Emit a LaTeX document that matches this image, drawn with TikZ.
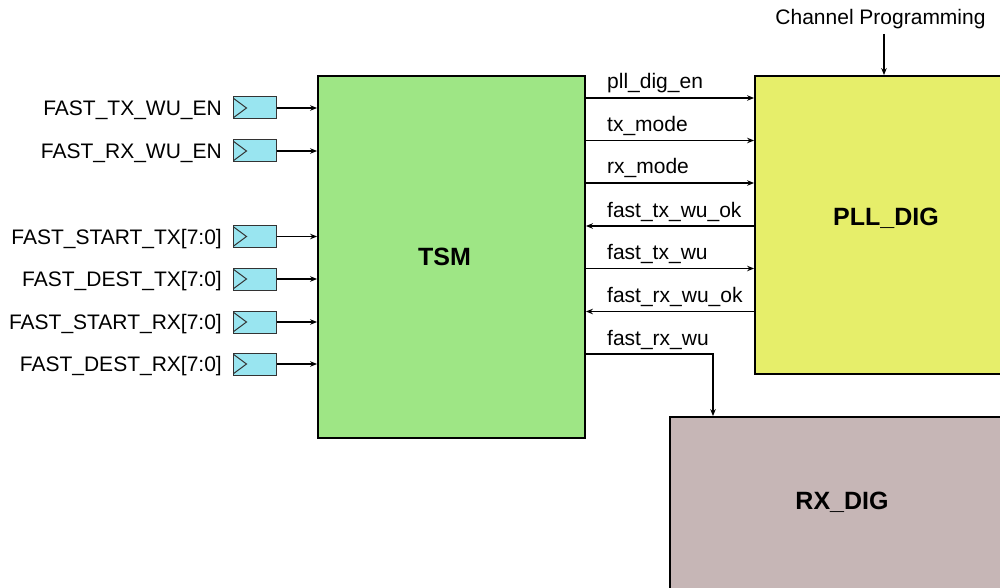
\documentclass[tikz,border=0pt]{standalone}
\usepackage{fontspec}
\setmainfont{Liberation Sans}
\usetikzlibrary{arrows.meta}
\definecolor{tsmgreen}{HTML}{9EE685}
\definecolor{pllyellow}{HTML}{E6EE6A}
\definecolor{rxgray}{HTML}{C6B6B6}
\definecolor{bufcyan}{HTML}{99E5F0}
\begin{document}
\begin{tikzpicture}[x=1pt,y=-1pt,
  lbl/.style={font=\fontsize{21}{23}\selectfont, inner sep=0pt},
  blk/.style={draw=black, line width=1.8pt, inner sep=0pt},
  blktext/.style={font=\fontsize{25}{28}\selectfont\bfseries, inner sep=0pt},
  buf/.style={draw=black!80, line width=1pt, fill=bufcyan, minimum width=43pt, minimum height=22pt, inner sep=0pt,
    path picture={\draw[line width=1pt] ([yshift=-1pt]path picture bounding box.north west) -- ([xshift=13.5pt]path picture bounding box.west) -- ([yshift=1pt]path picture bounding box.south west);}},
  sig/.style={line width=1.2pt, -{Stealth[length=7pt,width=5.5pt]}}
]
\useasboundingbox (0,0) rectangle (1000,588);
\begin{scope}
\clip (0,0) rectangle (1000,588);
% blocks
\node[blk, fill=tsmgreen, minimum width=267pt, minimum height=362pt] (tsm) at (451.5,257) {};
\node[blk, fill=pllyellow, minimum width=260pt, minimum height=298pt] (pll) at (885,225) {};
\node[blk, fill=rxgray, minimum width=340pt, minimum height=190pt] (rx) at (840,512) {};
\end{scope}
\node[blktext] (tsmlbl) at (444.5,257) {TSM};
\node[blktext] (plllbl) at (886,218) {PLL\_DIG};
\node[blktext] (rxlbl) at (842,502) {RX\_DIG};

% input buffers
\foreach \n/\y/\t in {1/108/FAST\_TX\_WU\_EN, 2/151/FAST\_RX\_WU\_EN, 3/236.5/FAST\_START\_TX[7:0], 4/279/FAST\_DEST\_TX[7:0], 5/322/FAST\_START\_RX[7:0], 6/364/FAST\_DEST\_RX[7:0]}{
  \node[buf] (b\n) at (254.5,\y) {};
  \node[lbl, anchor=base east] (l\n) at (222,\y+7.5) {\t};
  \draw[sig] (b\n.east) -- (tsm.west |- b\n.east);
}

% signals between TSM and PLL_DIG
\coordinate (c1) at (600,98);
\coordinate (c2) at (600,140.5);
\coordinate (c3) at (600,183);
\coordinate (c4) at (600,226);
\coordinate (c5) at (600,268.5);
\coordinate (c6) at (600,311.5);
\coordinate (c7) at (713,354);
\draw[sig] (tsm.east |- c1) -- (pll.west |- c1);
\draw[sig] (tsm.east |- c2) -- (pll.west |- c2);
\draw[sig] (tsm.east |- c3) -- (pll.west |- c3);
\draw[sig] (pll.west |- c4) -- (tsm.east |- c4);
\draw[sig] (tsm.east |- c5) -- (pll.west |- c5);
\draw[sig] (pll.west |- c6) -- (tsm.east |- c6);
\draw[sig] (tsm.east |- c7) -- (c7) -- (c7 |- rx.north);

\node[lbl, anchor=base west] (s1) at (607,89) {pll\_dig\_en};
\node[lbl, anchor=base west] (s2) at (607,131.5) {tx\_mode};
\node[lbl, anchor=base west] (s3) at (607,174) {rx\_mode};
\node[lbl, anchor=base west] (s4) at (607,217) {fast\_tx\_wu\_ok};
\node[lbl, anchor=base west] (s5) at (607,259.5) {fast\_tx\_wu};
\node[lbl, anchor=base west] (s6) at (607,302.5) {fast\_rx\_wu\_ok};
\node[lbl, anchor=base west] (s7) at (607,345) {fast\_rx\_wu};

% channel programming
\node[lbl, anchor=base] (chp) at (880.5,25) {Channel Programming};
\coordinate (chpin) at (884,34);
\draw[sig] (chpin) -- (chpin |- pll.north);
\end{tikzpicture}
\end{document}
